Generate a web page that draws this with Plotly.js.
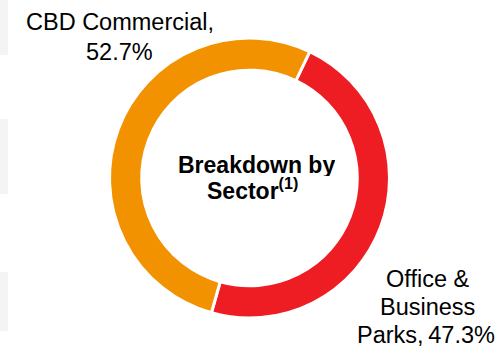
<!DOCTYPE html>
<html>
<head>
<meta charset="utf-8">
<script src="https://cdn.plot.ly/plotly-3.0.1.min.js"></script>
<style>
html,body{margin:0;padding:0;background:#fff;}
#chart{width:504px;height:346px;}
</style>
</head>
<body>
<div id="chart"></div>
<script>
// Data
const sectors = ["Office & Business Parks", "CBD Commercial"];
const shares = [47.3, 52.7];
const sectorColors = ["#EE1D24", "#F39200"];
const officeLabelLines = ["Office &", "Business", "Parks,\u2009"];
const cbdLabelLines = ["CBD Commercial,"];
const centerTitle = ["Breakdown by", "Sector<sup>(1)</sup>"];

const W = 504, H = 346;
const cx = 249.5, cy = 178, R = 140;
const px = x => x / W;
const py = y => 1 - y / H;

const trace = {
  type: "pie",
  labels: sectors,
  values: shares,
  sort: false,
  direction: "clockwise",
  rotation: 25.5,
  hole: 0.77,
  textinfo: "none",
  hoverinfo: "none",
  showlegend: false,
  marker: { colors: sectorColors, line: { color: "#ffffff", width: 3 } },
  domain: { x: [px(cx - R), px(cx + R)], y: [py(cy + R), py(cy - R)] }
};

const labFont = { family: "Liberation Sans, Arial, sans-serif", size: 23.5, color: "#000" };
const cenFont = { family: "Liberation Sans, Arial, sans-serif", size: 23, color: "#000", weight: "bold" };

function ann(text, x, y, font, h) {
  const a = { text: text, x: px(x), y: py(y), xref: "paper", yref: "paper",
           xanchor: "center", yanchor: "middle", showarrow: false, font: font, borderpad: 0 };
  if (h) a.height = h;
  return a;
}

const annotations = [
  // CBD Commercial
  ann(cbdLabelLines[0], 120, 21.5, labFont, 27),
  ann(shares[1].toFixed(1) + "%", 119, 51, labFont, 27),
  // Office & Business Parks
  ann(officeLabelLines[0], 427, 279, labFont, 26),
  ann(officeLabelLines[1], 427, 307, labFont, 26),
  ann(officeLabelLines[2] + shares[0].toFixed(1) + "%", 426, 335, labFont, 22),
  // Center
  ann("<b>" + centerTitle[0] + "</b>", 256, 164.5, cenFont, 22),
  ann("<b>" + centerTitle[1] + "</b>", 252, 189, cenFont, 24)
];

const greyRect = (y0, y1) => ({ type: "rect", xref: "paper", yref: "paper",
  x0: 0, x1: px(8), y0: py(y1), y1: py(y0), fillcolor: "#F4F4F4", line: { width: 0 }, layer: "below" });

const layout = {
  width: W, height: H,
  margin: { l: 0, r: 0, t: 0, b: 0 },
  paper_bgcolor: "#ffffff",
  plot_bgcolor: "#ffffff",
  showlegend: false,
  annotations: annotations,
  shapes: [greyRect(0, 55), greyRect(119, 194), greyRect(272, 331)]
};

Plotly.newPlot("chart", [trace], layout, { staticPlot: true, displayModeBar: false });
</script>
</body>
</html>
